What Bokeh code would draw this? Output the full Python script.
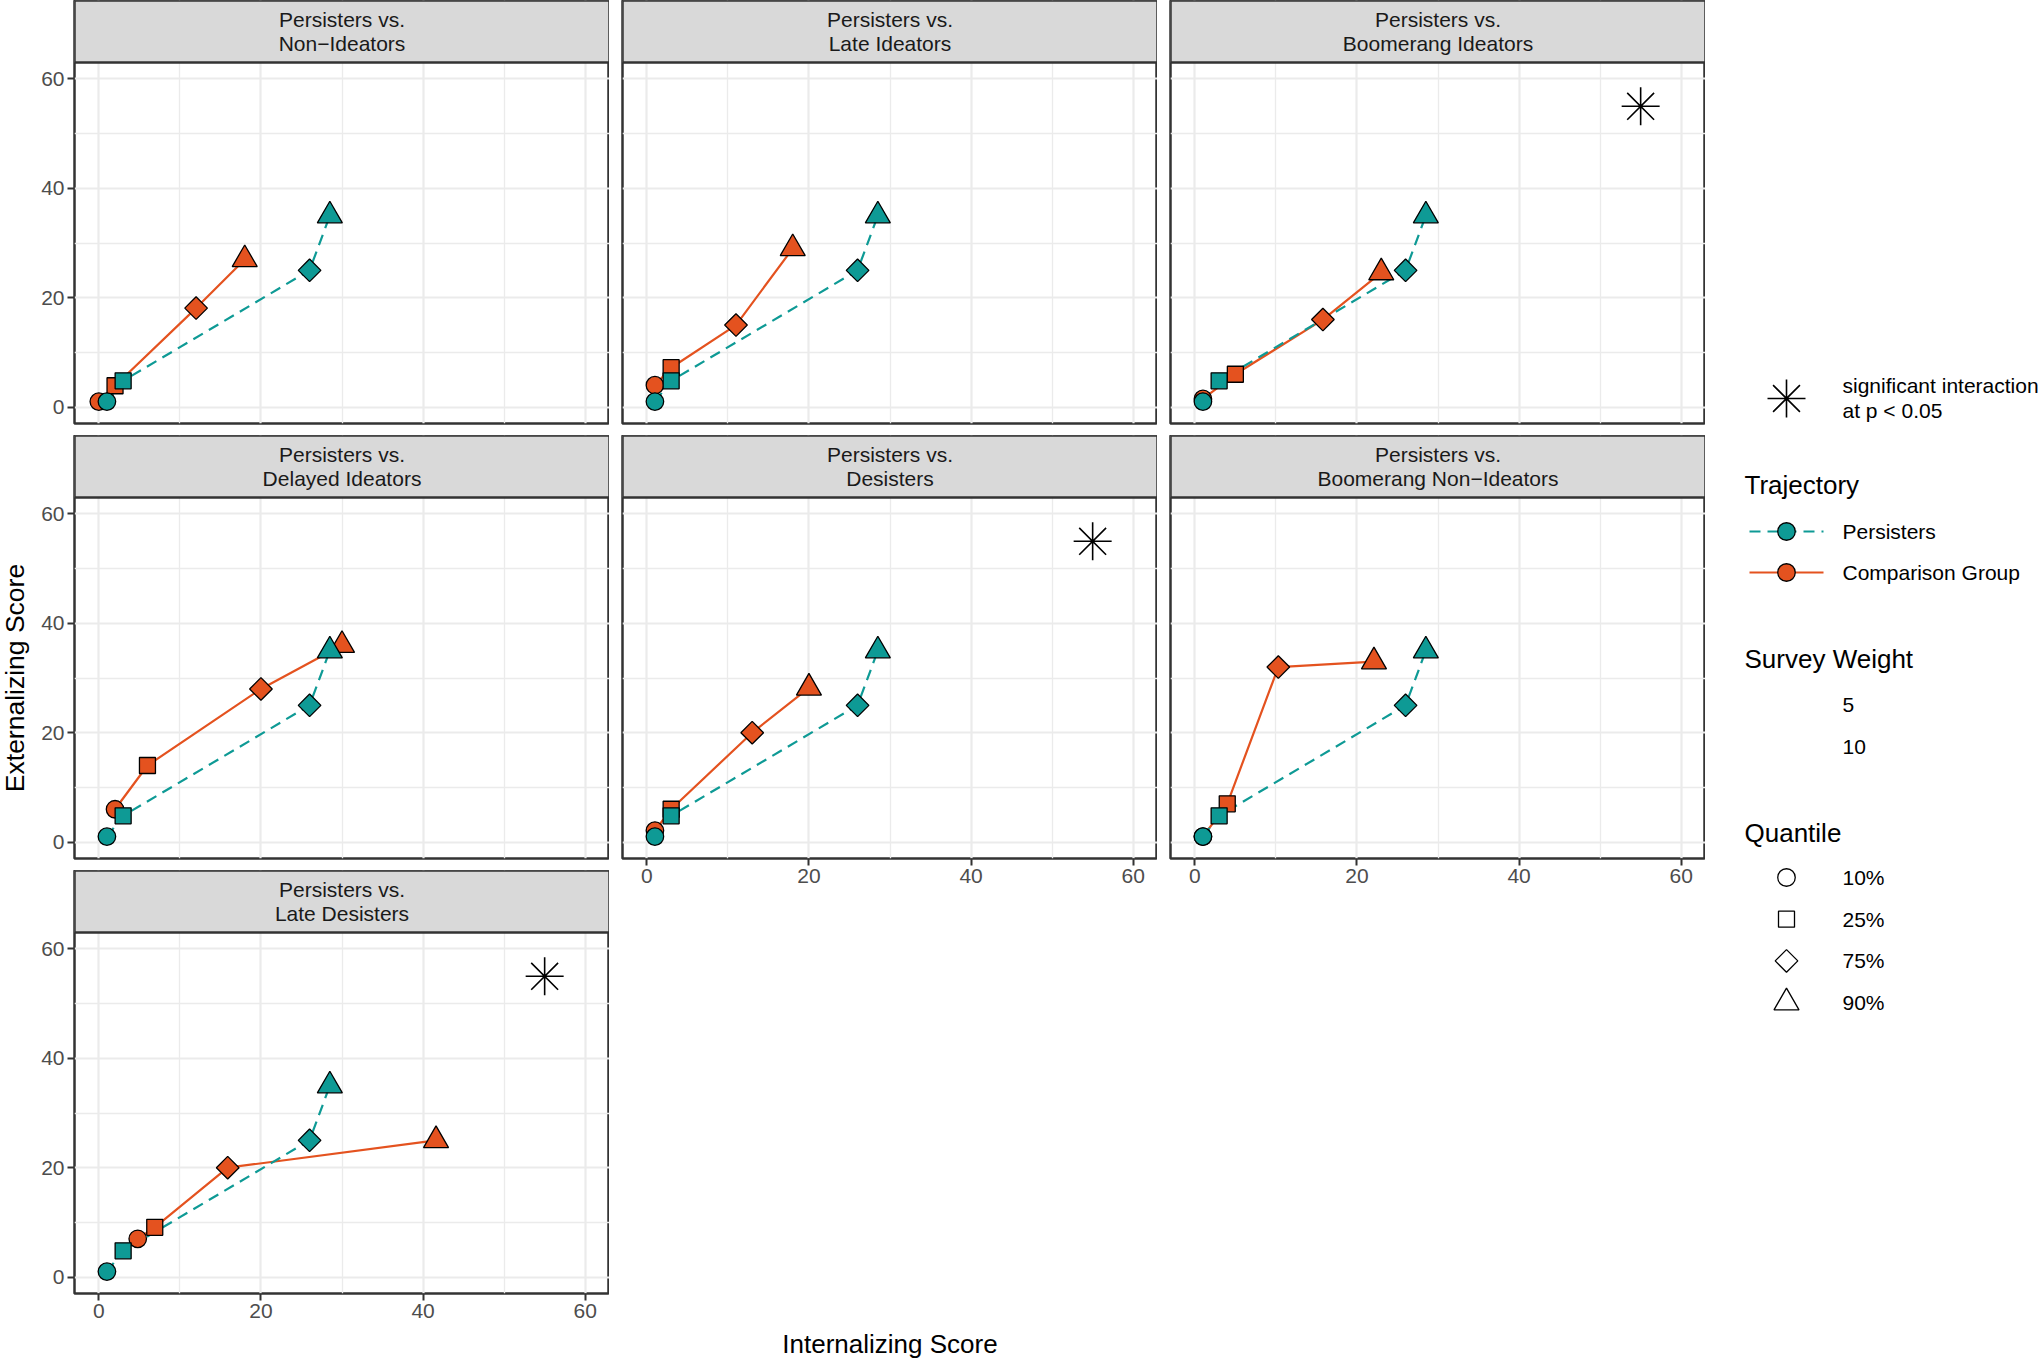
import numpy as np
from bokeh.plotting import figure
from bokeh.models import Range1d, FixedTicker, LinearAxis, Grid, ColumnDataSource
from bokeh.layouts import row, column
from bokeh.embed import file_html
from bokeh.resources import INLINE
from bokeh.core.properties import value

# ---------------- data ----------------
panel_titles = ["Non\u2212Ideators", "Late Ideators", "Boomerang Ideators",
                "Delayed Ideators", "Desisters", "Boomerang Non\u2212Ideators",
                "Late Desisters"]
significant = [False, False, True, False, True, False, True]
quantiles = ["10%", "25%", "75%", "90%"]

persisters_x = [1.0, 3.0, 26.0, 28.5]
persisters_y = [1.0, 4.8, 25.0, 35.0]

non_ideators_x = [0.0, 2.0, 12.0, 18.0]
non_ideators_y = [1.0, 3.9, 18.1, 27.0]
late_ideators_x = [1.0, 3.0, 11.0, 18.0]
late_ideators_y = [4.0, 7.2, 15.0, 29.0]
boomerang_ideators_x = [1.0, 5.0, 15.8, 23.0]
boomerang_ideators_y = [1.5, 6.0, 16.0, 24.6]
delayed_ideators_x = [2.0, 6.0, 20.0, 30.0]
delayed_ideators_y = [6.0, 14.0, 28.0, 36.0]
desisters_x = [1.0, 3.0, 13.0, 20.0]
desisters_y = [2.1, 6.0, 20.0, 28.2]
boomerang_non_ideators_x = [1.0, 4.0, 10.3, 22.1]
boomerang_non_ideators_y = [1.0, 7.0, 32.0, 33.0]
late_desisters_x = [4.8, 6.9, 15.9, 41.6]
late_desisters_y = [7.0, 9.1, 20.0, 25.0]

comparison_x = [non_ideators_x, late_ideators_x, boomerang_ideators_x, delayed_ideators_x,
                desisters_x, boomerang_non_ideators_x, late_desisters_x]
comparison_y = [non_ideators_y, late_ideators_y, boomerang_ideators_y, delayed_ideators_y,
                desisters_y, boomerang_non_ideators_y, late_desisters_y]

sig_x = 55
sig_y = 55

axis_ticks = [0, 20, 40, 60]
minor_ticks = [10, 30, 50]
survey_weights = ["5", "10"]

# ---------------- style ----------------
FONT = "Liberation Sans"
TEAL = "#0E9A95"
ORANGE = "#E4521F"
BORDER = "#333333"
GRIDC = "#EBEBEB"
STRIPC = "#D9D9D9"

FRAME_W = 535
PANEL_H = 361
STRIP_H = 62
FRAME_H = PANEL_H + STRIP_H
GAP = 12
AX_B = 35
LEFT_B = 38
COL_GAP = 13
LO, HI = -3.0, 63.0
Y_END = HI + STRIP_H * (HI - LO) / PANEL_H

shape_marker = {"10%": "circle", "25%": "square", "75%": "square", "90%": "triangle"}
shape_angle = {"10%": 0.0, "25%": 0.0, "75%": np.pi / 4, "90%": 0.0}
shape_size = {"10%": 17.5, "25%": 16, "75%": 16, "90%": 25}


def marker_source(xs, ys):
    return ColumnDataSource(dict(
        x=xs, y=ys,
        marker=[shape_marker[q] for q in quantiles],
        angle=[shape_angle[q] for q in quantiles],
        size=[shape_size[q] for q in quantiles],
    ))


def make_axis():
    ax = LinearAxis(ticker=FixedTicker(ticks=axis_ticks))
    ax.axis_line_color = None
    ax.major_tick_out = 7
    ax.major_tick_in = 0
    ax.minor_tick_out = 0
    ax.minor_tick_in = 0
    ax.major_tick_line_color = BORDER
    ax.major_tick_line_width = 2
    ax.major_label_standoff = 3
    ax.major_label_text_font = FONT
    ax.major_label_text_font_size = "21px"
    ax.major_label_text_color = "#4D4D4D"
    return ax


def make_panel(i):
    has_y = i in (0, 3, 6)
    has_x = i in (4, 5, 6)
    p = figure(frame_width=FRAME_W, frame_height=FRAME_H,
               x_range=Range1d(LO, HI), y_range=Range1d(LO, Y_END),
               x_axis_type=None, y_axis_type=None, title=None,
               toolbar_location=None, output_backend="svg",
               min_border_left=LEFT_B if has_y else COL_GAP, min_border_right=0,
               min_border_top=0, min_border_bottom=AX_B if has_x else GAP,
               background_fill_color="white", border_fill_color="white")
    p.outline_line_color = BORDER
    p.outline_line_width = 2.5

    gt = FixedTicker(ticks=axis_ticks, minor_ticks=minor_ticks)
    for dim in (0, 1):
        g = Grid(dimension=dim, ticker=gt, grid_line_color=GRIDC, grid_line_width=2.2,
                 minor_grid_line_color=GRIDC, minor_grid_line_width=1.3)
        p.add_layout(g, "center")

    # strip
    p.quad(left=[LO], right=[HI], bottom=[HI], top=[Y_END],
           fill_color=STRIPC, line_color=BORDER, line_width=2.5)
    p.text(x=[(LO + HI) / 2], y=[(HI + Y_END) / 2],
           text=["Persisters vs.\n" + panel_titles[i]],
           text_align="center", text_baseline="middle",
           text_font=value(FONT), text_font_size="21px", text_color="#1A1A1A",
           text_line_height=1.05)

    # lines
    p.line(comparison_x[i], comparison_y[i], line_color=ORANGE, line_width=2.2)
    p.line(persisters_x, persisters_y, line_color=TEAL, line_width=2.2, line_dash="11 7")
    # points
    p.scatter("x", "y", source=marker_source(comparison_x[i], comparison_y[i]),
              marker="marker", angle="angle", size="size",
              fill_color=ORANGE, line_color="black", line_width=1.3)
    p.scatter("x", "y", source=marker_source(persisters_x, persisters_y),
              marker="marker", angle="angle", size="size",
              fill_color=TEAL, line_color="black", line_width=1.3)

    if significant[i]:
        p.scatter([sig_x], [sig_y], marker="asterisk", size=38,
                  line_color="black", line_width=1.6)

    if has_y:
        p.add_layout(make_axis(), "left")
    if has_x:
        p.add_layout(make_axis(), "below")
    return p


panels = [make_panel(i) for i in range(7)]

col1 = column(panels[0], panels[3], panels[6])
col2 = column(panels[1], panels[4])
col3 = column(panels[2], panels[5])
grid_row = row(col1, col2, col3)

GRID_W = (LEFT_B + FRAME_W) + 2 * (COL_GAP + FRAME_W)
COL1_H = 2 * (FRAME_H + GAP) + FRAME_H + AX_B

# x axis title
XT_H = 31
xt = figure(width=GRID_W, height=XT_H, x_range=Range1d(0, GRID_W), y_range=Range1d(0, XT_H),
            x_axis_type=None, y_axis_type=None, title=None, toolbar_location=None,
            output_backend="svg", min_border=0, outline_line_color=None)
xt.text(x=[LEFT_B + (3 * FRAME_W + 2 * COL_GAP) / 2], y=[XT_H / 2], text=["Internalizing Score"],
        text_align="center", text_baseline="middle", text_font=value(FONT),
        text_font_size="26px", text_color="black")

# y axis title
YT_W = 36
yt = figure(width=YT_W, height=COL1_H, x_range=Range1d(0, YT_W), y_range=Range1d(0, COL1_H),
            x_axis_type=None, y_axis_type=None, title=None, toolbar_location=None,
            output_backend="svg", min_border=0, outline_line_color=None)
yt.text(x=[14], y=[COL1_H - (STRIP_H + (COL1_H - AX_B - STRIP_H) / 2)], text=["Externalizing Score"],
        angle=np.pi / 2, text_align="center", text_baseline="middle", text_font=value(FONT),
        text_font_size="26.5px", text_color="black")

# legend
LG_W = 338
LG_H = COL1_H + XT_H
lg = figure(width=LG_W, height=LG_H, x_range=Range1d(0, LG_W), y_range=Range1d(LG_H, 0),
            x_axis_type=None, y_axis_type=None, title=None, toolbar_location=None,
            output_backend="svg", min_border=0, outline_line_color=None)
KX, TX, TITLE_X = 81, 137, 39
LAB = "21px"
TIT = "26px"


def lg_text(x, y, t, size):
    lg.text(x=[x], y=[y], text=[t], text_align="left", text_baseline="middle",
            text_font=value(FONT), text_font_size=size, text_color="black",
            text_line_height=1.05)


lg.scatter([KX], [398], marker="asterisk", size=38, line_color="black", line_width=1.6)
lg_text(TX, 397.5, "significant interaction\nat p < 0.05", LAB)

lg_text(TITLE_X, 484, "Trajectory", TIT)
traj_rows = [("Persisters", TEAL, "11 7", 531), ("Comparison Group", ORANGE, "solid", 572)]
for lab, col, dash, yy in traj_rows:
    lg.segment(x0=[KX - 37], y0=[yy], x1=[KX + 37], y1=[yy], line_color=col,
               line_width=2.2, line_dash=dash)
    lg.scatter([KX], [yy], marker="circle", size=17.5, fill_color=col,
               line_color="black", line_width=1.3)
    lg_text(TX, yy, lab, LAB)

lg_text(TITLE_X, 658, "Survey Weight", TIT)
for k, w in enumerate(survey_weights):
    lg_text(TX, 704 + 42 * k, w, LAB)

lg_text(TITLE_X, 832, "Quantile", TIT)
for k, q in enumerate(quantiles):
    yy = 877 + 41.7 * k
    lg.scatter([KX], [yy], marker=shape_marker[q], angle=shape_angle[q],
               size=shape_size[q], fill_color=None, line_color="black", line_width=1.3)
    lg_text(TX, yy, q, LAB)

page = row(yt, column(grid_row, xt), lg)

open("out.html", "w").write(file_html(page, INLINE))
